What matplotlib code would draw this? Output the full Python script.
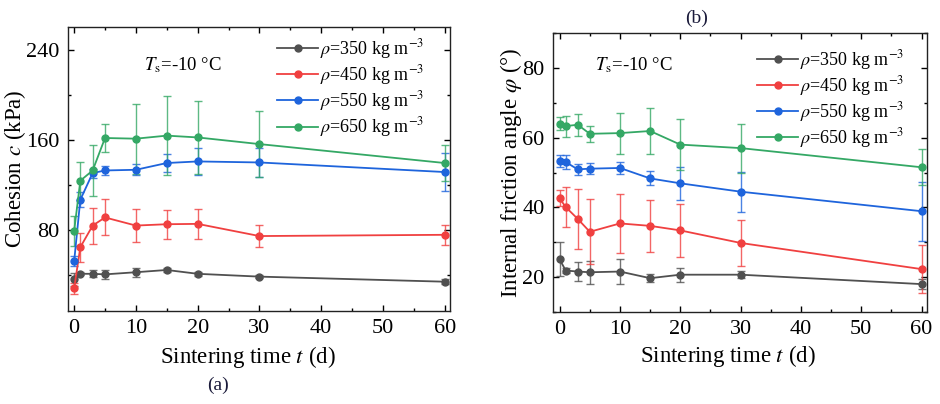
import numpy as np
import matplotlib
matplotlib.use("Agg")
import matplotlib.pyplot as plt
from matplotlib.ticker import MultipleLocator

plt.rcParams['font.family'] = ['Liberation Serif', 'DejaVu Serif']
plt.rcParams['mathtext.fontset'] = 'stix'

# ---------------------------------------------------------------- data
t = [0, 1, 3, 5, 10, 15, 20, 30, 60]
densities = ['350', '450', '550', '650']

# cohesion c (kPa)
c_350 = [36, 41, 41, 40.5, 42.4, 44.4, 41, 38.5, 34]
c_350_err = [6, 1.5, 3, 4, 4, 1.5, 2, 1, 2]
c_450 = [28, 64.6, 83.8, 91, 83.8, 85, 85.3, 74.5, 75.6]
c_450_err = [5, 13, 16, 16, 15, 13, 13, 10, 9]
c_550 = [52, 106.7, 130.4, 132.7, 133.3, 139.3, 140.7, 139.8, 131.3]
c_550_err = [4.4, 6.7, 4, 4, 5, 8, 12, 13, 17]
c_650 = [79, 123.6, 132.7, 161.5, 160.9, 163.6, 162, 156.1, 139.3]
c_650_err = [13, 17, 23, 12, 31, 35, 32, 29, 16]

# internal friction angle phi (deg)
p_350 = [25.1, 21.9, 21.6, 21.4, 21.6, 19.7, 20.7, 20.7, 18]
p_350_err = [4.9, 0.8, 2.7, 3.3, 3.5, 1.2, 2, 1, 1.4]
p_450 = [42.6, 40.1, 36.7, 33, 35.4, 34.7, 33.4, 29.8, 22.3]
p_450_err = [2.3, 5.7, 8.7, 9.3, 8.5, 7.5, 7.6, 6.7, 6.8]
p_550 = [53.2, 53, 50.9, 51.1, 51.3, 48.3, 46.9, 44.5, 38.9]
p_550_err = [1.7, 1.9, 1.5, 1.5, 1.8, 2, 4.7, 5.7, 8.4]
p_650 = [64, 63.3, 63.7, 61.1, 61.3, 61.9, 58, 57, 51.5]
p_650_err = [1.9, 3, 3.2, 2.3, 5.9, 6.5, 7.4, 7, 5.1]

colors = ['#505050', '#f04040', '#1e64dc', '#34a865']

# ---------------------------------------------------------------- plot
fig = plt.figure(figsize=(9.4, 4.04), dpi=100)
axl = fig.add_axes([0.0723, 0.2302, 0.4064, 0.703])
axr = fig.add_axes([0.5883, 0.2277, 0.3979, 0.6906])

def draw(ax, series, errs):
    for i, (y, e) in enumerate(zip(series, errs)):
        ax.errorbar(t, y, yerr=e, color=colors[i], ecolor=colors[i],
                    elinewidth=1.0, capsize=3, capthick=1.0, alpha=0.8,
                    fmt='none', zorder=2)
        ax.plot(t, y, color=colors[i], lw=1.3, marker='o', ms=5,
                mfc=colors[i], mec=colors[i], zorder=3,
                label=r'$\rho$=' + densities[i] + r' kg m$^{-3}$')

def style(ax):
    ax.set_xlim(-1, 60.85)
    ax.xaxis.set_major_locator(MultipleLocator(10))
    ax.xaxis.set_minor_locator(MultipleLocator(5))
    ax.tick_params(which='both', direction='in', top=True, right=True,
                   labelsize=16, width=1.0, pad=6)
    ax.tick_params(which='major', length=4)
    ax.tick_params(which='minor', length=2.5)
    for s in ax.spines.values():
        s.set_linewidth(1.0)
        s.set_color('#222222')

draw(axl, [c_350, c_450, c_550, c_650], [c_350_err, c_450_err, c_550_err, c_650_err])
style(axl)
axl.set_ylim(8, 260)
axl.yaxis.set_major_locator(MultipleLocator(80))
axl.yaxis.set_minor_locator(MultipleLocator(40))
axl.set_ylabel(r'Cohesion $c$ (kPa)', fontsize=16.5)
axl.set_xlabel(r'Sintering time $t$ (d)', fontsize=16.5)
axl.xaxis.set_label_coords(0.471, -0.116)
axl.yaxis.set_label_coords(-0.105, 0.5)
axl.text(0.2, 0.866, r'$T_{\mathrm{s}}$=-10 °C', transform=axl.transAxes,
         fontsize=13.5, va='center', ha='left')
axl.legend(loc='upper left', bbox_to_anchor=(0.547, 0.965), frameon=False,
           fontsize=13, handlelength=2.3, handletextpad=0.1, borderpad=0,
           borderaxespad=0, labelspacing=0.12)

draw(axr, [p_350, p_450, p_550, p_650], [p_350_err, p_450_err, p_550_err, p_650_err])
style(axr)
axr.set_xlim(-1.1, 60.9)
axr.set_ylim(10, 90)
axr.yaxis.set_major_locator(MultipleLocator(20))
axr.yaxis.set_minor_locator(MultipleLocator(10))
axr.set_ylabel(r'Internal friction angle $\varphi$ (°)', fontsize=16.5)
axr.set_xlabel(r'Sintering time $t$ (d)', fontsize=16.5)
axr.xaxis.set_label_coords(0.468, -0.111)
axr.yaxis.set_label_coords(-0.078, 0.5)
axr.text(0.112, 0.885, r'$T_{\mathrm{s}}$=-10 °C', transform=axr.transAxes,
         fontsize=13.5, va='center', ha='left')
axr.legend(loc='upper left', bbox_to_anchor=(0.545, 0.947), frameon=False,
           fontsize=13, handlelength=2.3, handletextpad=0.1, borderpad=0,
           borderaxespad=0, labelspacing=0.12)

fig.text(218 / 940, 1 - 385 / 404, '(a)', fontsize=14, ha='center', va='center',
         color='#1a1a3a')
fig.text(697 / 940, 1 - 18 / 404, '(b)', fontsize=14, ha='center', va='center',
         color='#1a1a3a')

fig.savefig('out.png', dpi=100)
